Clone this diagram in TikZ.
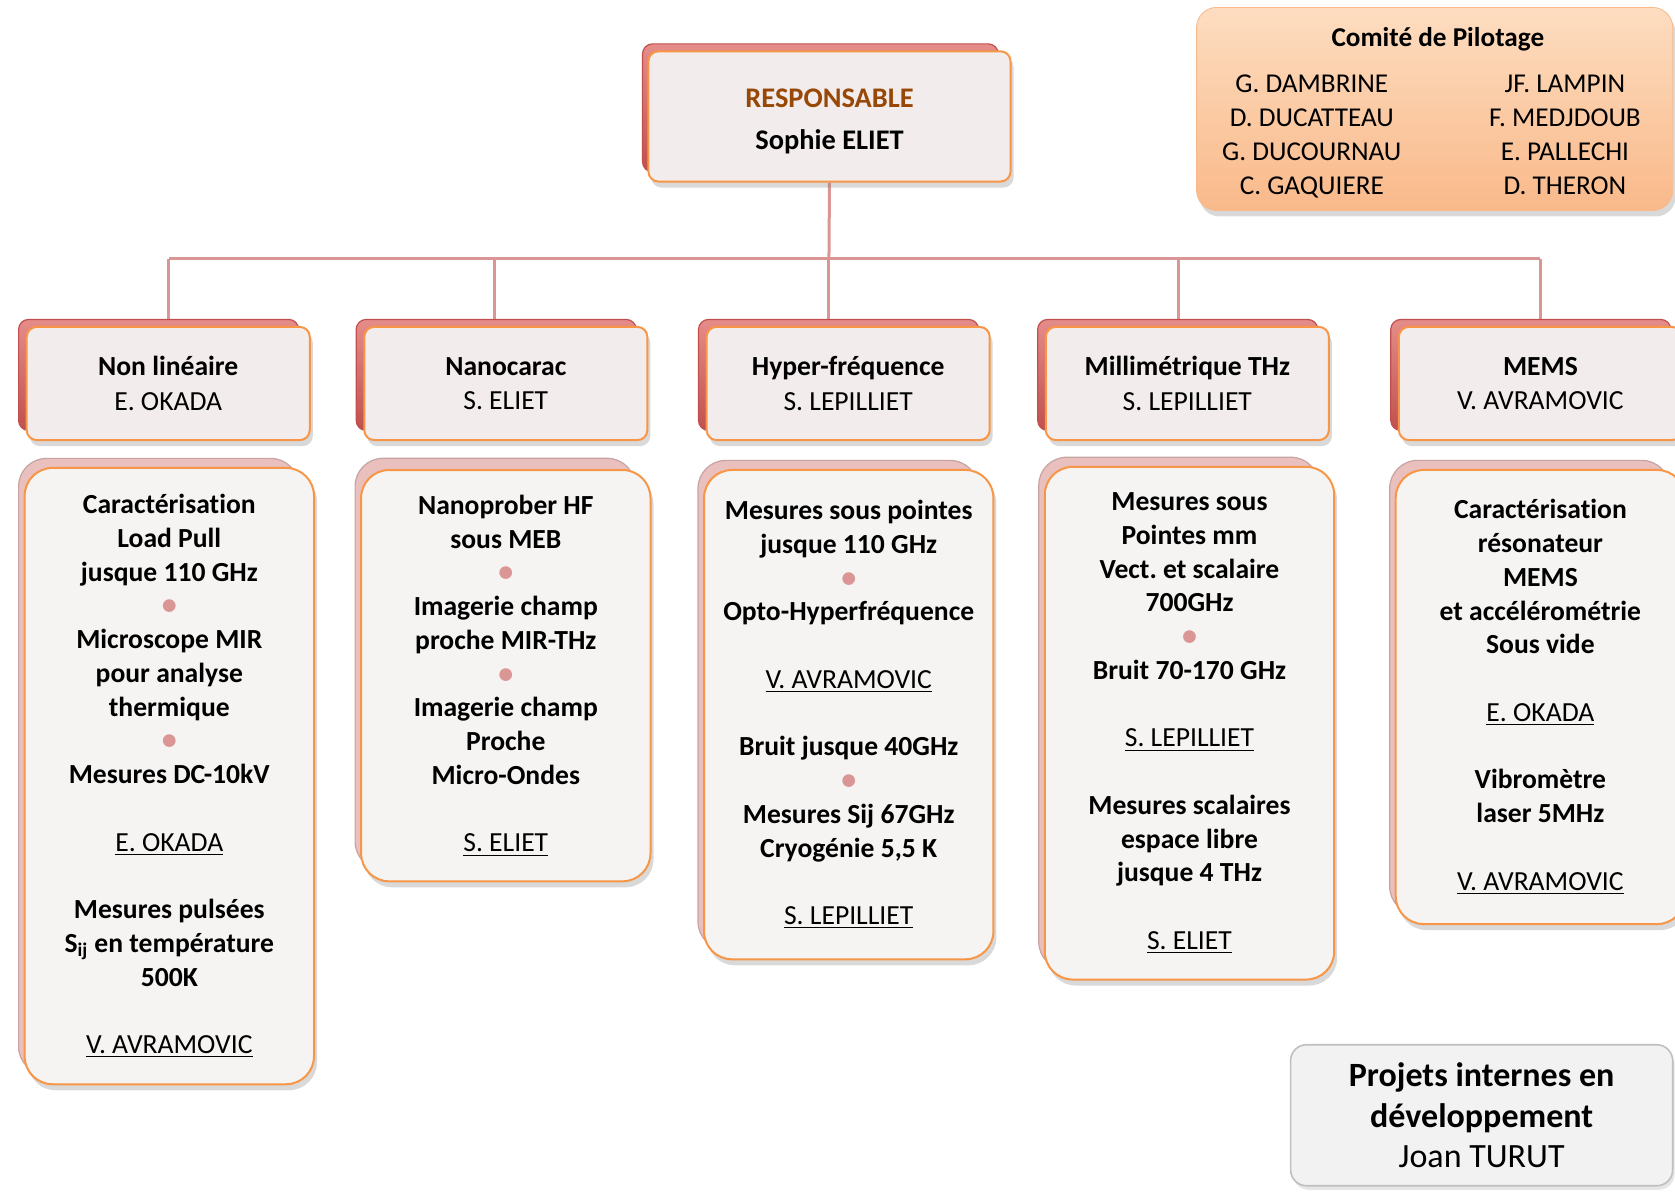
\documentclass[tikz,border=0pt]{standalone}
\usepackage{fontspec}
\setmainfont{Carlito}[Ligatures=NoCommon]
\usepackage{xcolor}
\usetikzlibrary{shadows,backgrounds}
\frenchspacing

\definecolor{linkpink}{HTML}{D99694}
\definecolor{backred}{HTML}{C0504D}
\definecolor{backredlight}{HTML}{E58C89}
\definecolor{backpink}{HTML}{EAC0BF}
\definecolor{frameorange}{HTML}{F79646}
\definecolor{headfill}{HTML}{F2ECEC}
\definecolor{detailfill}{HTML}{F5F4F3}
\definecolor{respbrown}{HTML}{984806}
\definecolor{comitetop}{HTML}{FDDDC0}
\definecolor{comitebottom}{HTML}{F9B98A}
\definecolor{projfill}{HTML}{F2F2F2}
\definecolor{projdraw}{HTML}{BFBFBF}

\newcommand{\sepdot}{{\color{linkpink}\fontsize{15}{16.87}\selectfont •}}
\newcommand{\who}[1]{\textmd{\underline{#1}}}

\begin{document}
\begin{tikzpicture}[x=0.534pt, y=-0.534pt]
        \tikzset{
            backhead/.style = {rectangle, rounded corners=5pt, minimum width=140pt, minimum height=55.5pt, draw=backred, line width=0.6pt, top color=backredlight, bottom color=backred},
            headbox/.style = {rectangle, rounded corners=5pt, minimum width=141.5pt, minimum height=56.6pt, align=center, draw=frameorange, line width=1pt, fill=headfill, drop shadow={opacity=0.3, shadow xshift=1.5pt, shadow yshift=-3pt}, font=\fontsize{13.8}{17.1}\selectfont},
            backdetail/.style = {rectangle, rounded corners=14pt, minimum width=140pt, draw=backpink!85!black, line width=0.6pt, fill=backpink},
            detailbox/.style = {rectangle, rounded corners=14pt, minimum width=141.5pt, text width=138pt, align=flush center, draw=frameorange, line width=1pt, fill=detailfill, drop shadow={opacity=0.3, shadow xshift=1.5pt, shadow yshift=-3pt}, font=\fontsize{13.8}{16.87}\selectfont\bfseries},
            comitebox/.style = {rectangle, rounded corners=10pt, minimum width=238pt, minimum height=101.5pt, top color=comitetop, bottom color=comitebottom, draw=comitebottom, drop shadow={opacity=0.3, shadow xshift=1.5pt, shadow yshift=-3pt}},
            comitelist/.style = {anchor=north, inner sep=0pt, align=center, font=\fontsize{13.6}{16.9}\selectfont},
            projbox/.style = {rectangle, rounded corners=8pt, minimum width=191pt, minimum height=70.5pt, align=center, fill=projfill, draw=projdraw, line width=0.8pt, drop shadow={opacity=0.2, shadow xshift=1pt, shadow yshift=-2pt}, font=\fontsize{17}{20.3}\selectfont},
            link/.style = {draw=linkpink, line width=1.5pt}
        }
        \useasboundingbox (0,0) rectangle (1568,1116);

        % responsable
        \node (respback) [backhead, minimum width=177.8pt, minimum height=64pt] at (768,101) {};
        \node (resp) [headbox, minimum width=181pt, minimum height=65.1pt, font=\fontsize{14.2}{20.8}\selectfont\bfseries] at (776.5,109) {\rule{0pt}{14.5pt}\textcolor{respbrown}{RESPONSABLE}\\Sophie ELIET};

        % comite
        \node (comite) [comitebox] at (1343,102) {};
        \node (comiteTitle) [font=\fontsize{13.6}{16.9}\selectfont\bfseries] at (1346,37) {Comité de Pilotage};
        \node (comiteLeft) [comitelist] at (1228,70) {G. DAMBRINE\\D. DUCATTEAU\\G. DUCOURNAU\\C. GAQUIERE};
        \node (comiteRight) [comitelist] at (1465,70) {JF. LAMPIN\\F. MEDJDOUB\\E. PALLECHI\\D. THERON};

        % equipes
        \node (hd1back) [backhead] at (148.5,351) {};
        \node (hd1) [headbox] at (157.5,359) {\textbf{Non linéaire}\\E. OKADA};
        \node (hd2back) [backhead] at (464.5,351) {};
        \node (hd2) [headbox] at (473.5,359) {\textbf{Nanocarac}\\S. ELIET};
        \node (hd3back) [backhead] at (785,351) {};
        \node (hd3) [headbox] at (794,359) {\textbf{Hyper-fréquence}\\S. LEPILLIET};
        \node (hd4back) [backhead] at (1102.5,351) {};
        \node (hd4) [headbox] at (1111.5,359) {\textbf{Millimétrique THz}\\S. LEPILLIET};
        \node (hd5back) [backhead] at (1433,351) {};
        \node (hd5) [headbox] at (1442,359) {\textbf{MEMS}\\V. AVRAMOVIC};

        % moyens
        \node (mo1back) [backdetail, minimum height=308pt] at (148.5,717.5) {};
        \node (mo1) [detailbox, minimum height=308.1pt] at (158.5,726.5) {Caractérisation\\Load Pull\\jusque 110 GHz\\\sepdot\\Microscope MIR\\pour analyse\\thermique\\\sepdot\\Mesures DC-10kV\\[\baselineskip]\who{E. OKADA}\\[\baselineskip]Mesures pulsées\\S\textsubscript{ij} en température\\500K\\[\baselineskip]\who{V. AVRAMOVIC}};
        \node (mo2back) [backdetail, minimum height=205.6pt] at (463.5,621.5) {};
        \node (mo2) [detailbox, minimum height=205.6pt] at (473.5,632.5) {Nanoprober HF\\sous MEB\\\sepdot\\Imagerie champ\\proche MIR-THz\\\sepdot\\Imagerie champ\\Proche\\Micro-Ondes\\[\baselineskip]\who{S. ELIET}};
        \node (mo3back) [backdetail, minimum height=244.6pt] at (784.5,660) {};
        \node (mo3) [detailbox, minimum height=244.6pt] at (794.5,669) {Mesures sous pointes\\jusque 110 GHz\\\sepdot\\Opto-Hyperfréquence\\[\baselineskip]\who{V. AVRAMOVIC}\\[\baselineskip]Bruit jusque 40GHz\\\sepdot\\Mesures Sij 67GHz\\Cryogénie 5,5 K\\[\baselineskip]\who{S. LEPILLIET}};
        \node (mo4back) [backdetail, minimum height=256.3pt] at (1103.5,668) {};
        \node (mo4) [detailbox, minimum height=256.3pt] at (1113.5,677) {Mesures sous\\Pointes mm\\Vect. et scalaire\\700GHz\\\sepdot\\Bruit 70-170 GHz\\[\baselineskip]\who{S. LEPILLIET}\\[\baselineskip]Mesures scalaires\\espace libre\\jusque 4 THz\\[\baselineskip]\who{S. ELIET}};
        \node (mo5back) [backdetail, minimum height=227pt] at (1432,643.5) {};
        \node (mo5) [detailbox, minimum height=227pt] at (1442,652.5) {Caractérisation\\résonateur\\MEMS\\et accélérométrie\\Sous vide\\[\baselineskip]\who{E. OKADA}\\[\baselineskip]Vibromètre\\laser 5MHz\\[\baselineskip]\who{V. AVRAMOVIC}};

        % projets
        \node (projets) [projbox] at (1387,1044) {\textbf{Projets internes en}\\\textbf{développement}\\Joan TURUT};

        % liaisons
        \coordinate (bus) at (776,242);
        \coordinate (dropA) at (158,242);
        \coordinate (dropB) at (463,242);
        \coordinate (dropD) at (1103,242);
        \coordinate (dropE) at (1442,242);
        \begin{scope}[on background layer]
            \draw [link] (resp.south) -- (bus);
            \draw [link] (dropA) -- (dropE);
            \draw [link] (dropA) -- (dropA |- hd1back.north);
            \draw [link] (dropB) -- (dropB |- hd2back.north);
            \draw [link] (bus) -- (bus |- hd3back.north);
            \draw [link] (dropD) -- (dropD |- hd4back.north);
            \draw [link] (dropE) -- (dropE |- hd5back.north);
        \end{scope}

    \end{tikzpicture}
\end{document}
